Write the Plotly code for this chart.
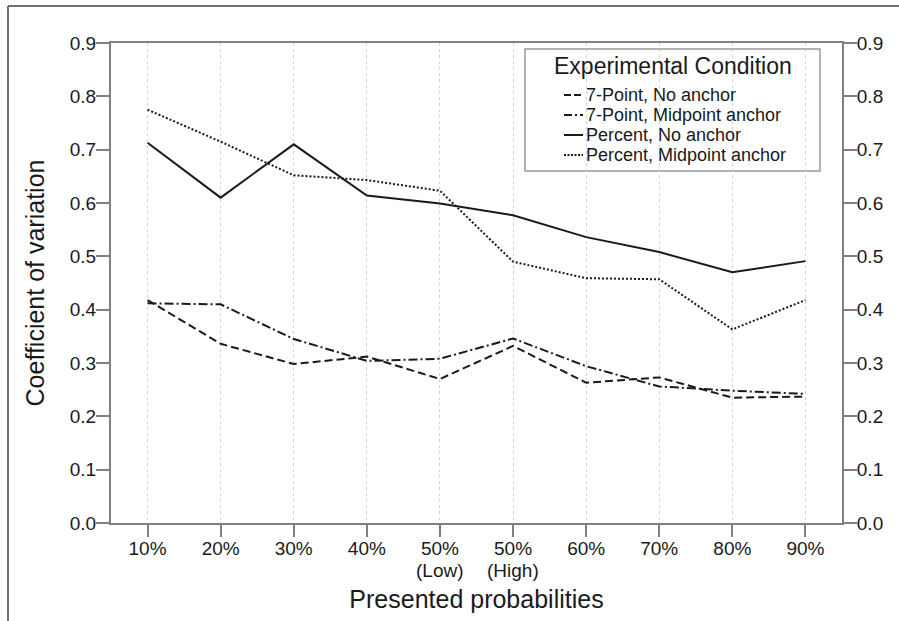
import plotly.graph_objects as go

# Presented probability conditions (x categories)
tick_labels = ["10%", "20%", "30%", "40%", "50%", "50%", "60%", "70%", "80%", "90%"]
tick_sublabels = ["", "", "", "", "(Low)", "(High)", "", "", "", ""]

# Coefficient of variation per experimental condition
seven_point_no_anchor = [0.418, 0.336, 0.298, 0.312, 0.270, 0.332, 0.263, 0.273, 0.235, 0.237]
seven_point_midpoint = [0.412, 0.410, 0.345, 0.304, 0.308, 0.346, 0.294, 0.256, 0.248, 0.242]
percent_no_anchor = [0.713, 0.610, 0.710, 0.614, 0.599, 0.577, 0.536, 0.508, 0.470, 0.491]
percent_midpoint = [0.775, 0.715, 0.652, 0.643, 0.623, 0.490, 0.459, 0.457, 0.363, 0.418]

series_names = ["7-Point, No anchor", "7-Point, Midpoint anchor",
                "Percent, No anchor", "Percent, Midpoint anchor"]
legend_title = "Experimental Condition"

y_ticks = [0.0, 0.1, 0.2, 0.3, 0.4, 0.5, 0.6, 0.7, 0.8, 0.9]

W, H = 899, 621
ML, MR, MT, MB = 111, 57, 43, 98
PW, PH = W - ML - MR, H - MT - MB

FONT = "Liberation Sans, Arial, Helvetica, sans-serif"
INK = "#1a1a1a"
AXIS = "#808080"


def px_x(p):
    return (p - ML) / PW


def px_y(p):
    return (H - MB - p) / PH


x = list(range(len(tick_labels)))

values = [seven_point_no_anchor, seven_point_midpoint, percent_no_anchor, percent_midpoint]
dashes = ["8px,4px", "9px,3px,2px,3px", "solid", "2px,2px"]
legend_dashes = ["7px,3px", "8px,3px,2px,3px", "solid", "2px,1.5px"]
axes = ["y", "y", "y", "y2"]

fig = go.Figure()
for name, vals, dash, yax in zip(series_names, values, dashes, axes):
    fig.add_trace(go.Scatter(
        x=x, y=vals, name=name, mode="lines", yaxis=yax, showlegend=False,
        line=dict(color=INK, width=2, dash=dash),
    ))

axis_common = dict(
    showline=True, linecolor=AXIS, linewidth=2,
    ticks="outside", tickcolor=AXIS, tickwidth=2,
    tickfont=dict(family=FONT, size=19, color=INK),
    zeroline=False,
)

fig.update_layout(
    width=W, height=H,
    margin=dict(l=ML, r=MR, t=MT, b=MB),
    paper_bgcolor="white", plot_bgcolor="white",
    font=dict(family=FONT, color=INK),
    showlegend=False,
    xaxis=dict(
        **axis_common,
        range=[-0.5, len(x) - 0.5],
        tickvals=x, ticktext=tick_labels, ticklen=12, ticklabelstandoff=-5,
        mirror=True,
        showgrid=True, gridcolor="#d4d4d4", gridwidth=1, griddash="dot",
        title=dict(text="Presented probabilities",
                   font=dict(family=FONT, size=25, color=INK), standoff=33),
    ),
    yaxis=dict(
        **axis_common,
        range=[0, 0.9], tickvals=y_ticks, tickformat=".1f", ticklen=13,
        ticklabelstandoff=-4, showgrid=False,
        title=dict(text="Coefficient of variation",
                   font=dict(family=FONT, size=25, color=INK), standoff=18),
    ),
    yaxis2=dict(
        **axis_common,
        range=[0, 0.9], tickvals=y_ticks, tickformat=".1f", ticklen=13,
        ticklabelstandoff=-4,
        overlaying="y", side="right", matches="y", showgrid=False,
    ),
)

# Second line of the two 50% tick labels
for xi, sub in zip(x, tick_sublabels):
    if sub:
        fig.add_annotation(
            x=xi, y=px_y(570), xref="x", yref="paper",
            text=sub, showarrow=False, yanchor="middle",
            font=dict(family=FONT, size=19, color=INK),
        )

# Legend: frame, title, line samples and labels
LEG_L, LEG_R, LEG_T, LEG_B = 525, 820, 49, 171
fig.add_shape(type="rect", xref="paper", yref="paper",
              x0=px_x(LEG_L), x1=px_x(LEG_R), y0=px_y(LEG_B), y1=px_y(LEG_T),
              line=dict(color="#999999", width=1.5), fillcolor="white", layer="below")
fig.add_annotation(x=px_x((LEG_L + LEG_R) / 2), y=px_y(66), xref="paper", yref="paper",
                   text=legend_title, showarrow=False, xanchor="center", yanchor="middle",
                   font=dict(family=FONT, size=23, color=INK))
for i, (name, dash) in enumerate(zip(series_names, legend_dashes)):
    yc = 95 + 20 * i
    fig.add_shape(type="line", xref="paper", yref="paper",
                  x0=px_x(564), x1=px_x(583), y0=px_y(yc), y1=px_y(yc),
                  line=dict(color=INK, width=2, dash=dash))
    fig.add_annotation(x=px_x(584), y=px_y(yc), xref="paper", yref="paper",
                       text=name, showarrow=False, xanchor="left", yanchor="middle",
                       font=dict(family=FONT, size=18, color=INK))

# Outer frame edges (top and left)
fig.add_shape(type="line", xref="paper", yref="paper",
              x0=px_x(8), x1=px_x(W), y0=px_y(6), y1=px_y(6),
              line=dict(color="#707070", width=2))
fig.add_shape(type="line", xref="paper", yref="paper",
              x0=px_x(8), x1=px_x(8), y0=px_y(6), y1=px_y(H),
              line=dict(color="#707070", width=2))

fig.write_html("out.html")
